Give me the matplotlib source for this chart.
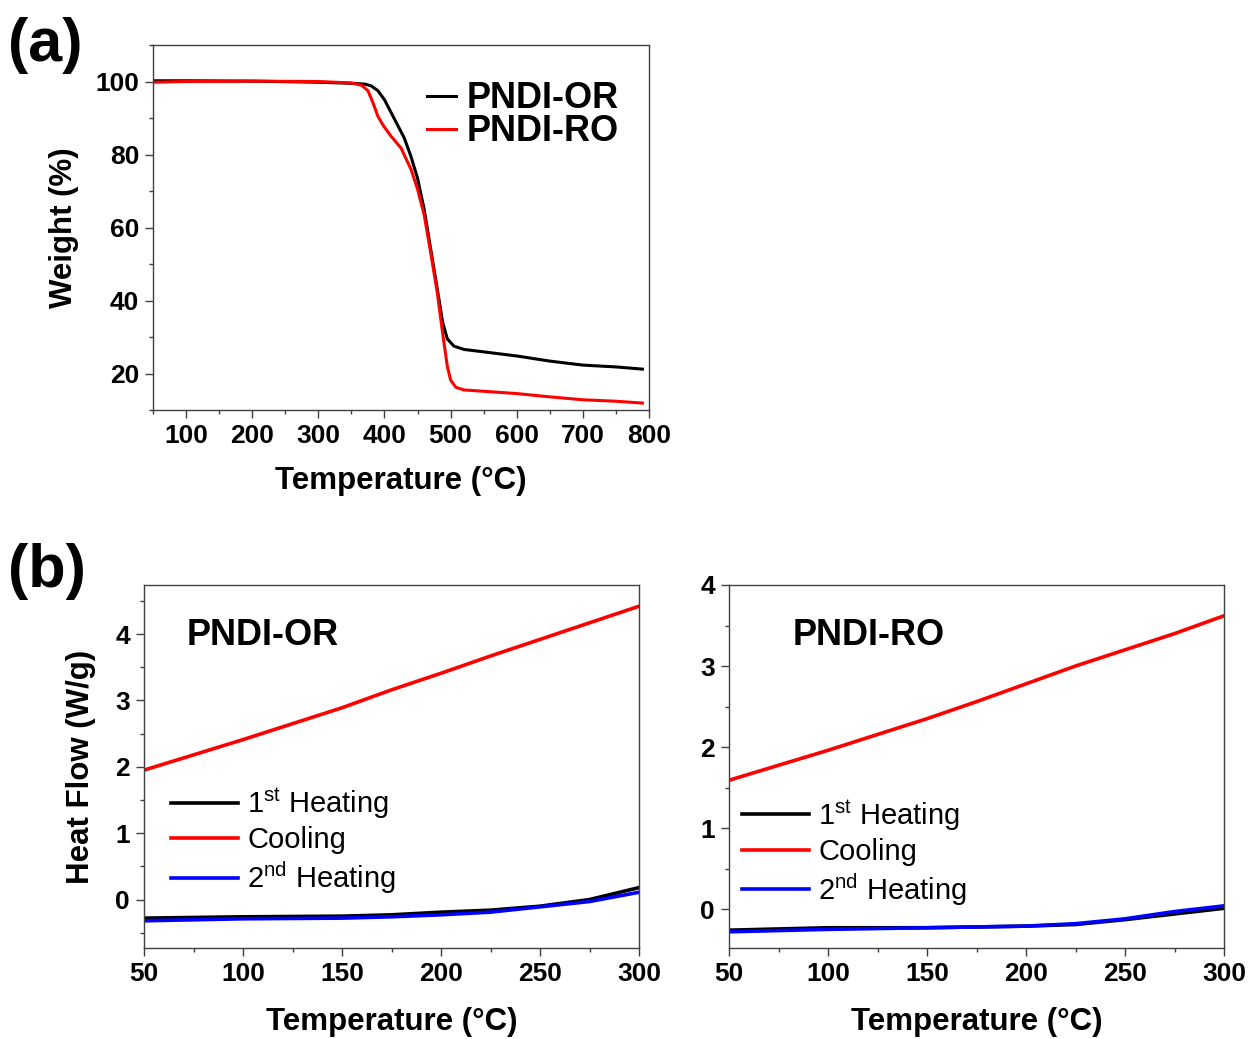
import numpy as np
import matplotlib
matplotlib.use("Agg")
import matplotlib.pyplot as plt
from matplotlib.ticker import MultipleLocator

plt.rcParams['font.family'] = ['Liberation Sans', 'DejaVu Sans']
plt.rcParams['mathtext.fontset'] = 'custom'
plt.rcParams['mathtext.rm'] = 'Liberation Sans'
plt.rcParams['mathtext.default'] = 'regular'

# (a) TGA data
tga_or_T = [50, 100, 200, 300, 350, 370, 380, 390, 400, 410, 420, 430, 440, 450, 460, 470,
            480, 488, 495, 505, 520, 560, 600, 650, 700, 750, 790]
tga_or_W = [100.2, 100.2, 100.1, 99.8, 99.5, 99.3, 98.8, 97.5, 95.0, 91.5, 88.0, 84.5, 79.5,
            73.5, 65.0, 54.0, 43.0, 34.0, 29.5, 27.5, 26.6, 25.7, 24.8, 23.4, 22.3, 21.8, 21.2]
tga_ro_T = [50, 100, 200, 300, 350, 365, 375, 383, 390, 398, 410, 425, 440, 450, 460, 470,
            480, 488, 495, 500, 508, 520, 560, 600, 650, 700, 750, 790]
tga_ro_W = [99.8, 100.0, 100.1, 100.0, 99.6, 99.0, 97.5, 94.0, 90.5, 88.0, 85.0, 81.8, 76.0,
            70.5, 63.5, 53.0, 42.0, 31.0, 22.0, 18.2, 16.2, 15.5, 15.0, 14.5, 13.6, 12.8, 12.4, 11.9]

# (b) DSC data
dsc_T = [50, 100, 150, 175, 200, 225, 250, 275, 300]
or_heat1 = [-0.28, -0.26, -0.25, -0.23, -0.19, -0.16, -0.10, 0.00, 0.18]
or_cool = [1.95, 2.41, 2.89, 3.16, 3.41, 3.67, 3.92, 4.17, 4.42]
or_heat2 = [-0.32, -0.29, -0.28, -0.26, -0.23, -0.19, -0.11, -0.03, 0.11]
ro_heat1 = [-0.26, -0.23, -0.23, -0.22, -0.21, -0.19, -0.13, -0.06, 0.01]
ro_cool = [1.59, 1.96, 2.35, 2.56, 2.78, 3.00, 3.20, 3.40, 3.62]
ro_heat2 = [-0.28, -0.25, -0.23, -0.22, -0.21, -0.18, -0.12, -0.03, 0.04]

W, H = 1252, 1039
fig = plt.figure(figsize=(W / 100, H / 100), dpi=100)


def box(l, t, r, b):
    return [l / W, 1 - b / H, (r - l) / W, (b - t) / H]


def style(ax):
    for s in ax.spines.values():
        s.set_color('#404040')
        s.set_linewidth(1.0)
    ax.tick_params(which='major', direction='out', length=6, width=1, color='#404040',
                   labelsize=19, pad=4)
    ax.tick_params(which='minor', direction='out', length=3, width=1, color='#404040')
    for lab in ax.get_xticklabels() + ax.get_yticklabels():
        lab.set_fontweight('bold')


# (a)
ax = fig.add_axes(box(153, 45, 649, 410))
ax.plot(tga_or_T, tga_or_W, color='black', lw=2.2, label='PNDI-OR')
ax.plot(tga_ro_T, tga_ro_W, color='red', lw=2.2, label='PNDI-RO')
ax.set_xlim(50, 800)
ax.set_ylim(10, 110)
ax.set_xticks(range(100, 801, 100))
ax.set_yticks(range(20, 101, 20))
ax.xaxis.set_minor_locator(MultipleLocator(50))
ax.yaxis.set_minor_locator(MultipleLocator(10))
style(ax)
ax.set_xlabel('Temperature (°C)', fontsize=22.5, fontweight='bold', labelpad=13)
ax.set_ylabel('Weight (%)', fontsize=22.5, fontweight='bold', labelpad=12)
leg = ax.legend(loc='upper left', bbox_to_anchor=(0.553, 0.9), frameon=False,
                prop={'size': 26, 'weight': 'bold'}, handlelength=0.8, handletextpad=0.3,
                labelspacing=-0.06, borderpad=0, borderaxespad=0)
fig.text(8 / W, 1 - 45 / H, '(a)', fontsize=44, fontweight='bold', va='center')

# (b)
panels = [
    (box(144, 585, 639, 948), or_heat1, or_cool, or_heat2, 'PNDI-OR', (-0.73, 4.74),
     0.087, (0.055, 0.447)),
    (box(729, 585, 1224, 948), ro_heat1, ro_cool, ro_heat2, 'PNDI-RO', (-0.48, 4.0),
     0.129, (0.027, 0.415)),
]
for i, (pos, h1, c, h2, name, yl, tx, lpos) in enumerate(panels):
    ax = fig.add_axes(pos)
    ax.plot(dsc_T, h1, color='black', lw=2.6, label='1$^{st}$ Heating')
    ax.plot(dsc_T, c, color='red', lw=2.6, label='Cooling')
    ax.plot(dsc_T, h2, color='blue', lw=2.6, label='2$^{nd}$ Heating')
    ax.set_xlim(50, 300)
    ax.set_ylim(*yl)
    ax.set_xticks(range(50, 301, 50))
    ax.set_yticks(range(0, 5))
    ax.xaxis.set_minor_locator(MultipleLocator(25))
    ax.yaxis.set_minor_locator(MultipleLocator(0.5))
    style(ax)
    ax.set_xlabel('Temperature (°C)', fontsize=22.5, fontweight='bold', labelpad=15)
    if i == 0:
        ax.set_ylabel('Heat Flow (W/g)', fontsize=22.5, fontweight='bold', labelpad=14)
    ax.text(tx, 0.86, name, transform=ax.transAxes, fontsize=26, fontweight='bold',
            va='center', ha='left')
    ax.legend(loc='upper left', bbox_to_anchor=lpos, frameon=False, fontsize=21,
              handlelength=2.3, handletextpad=0.3, labelspacing=0.18, borderpad=0,
              borderaxespad=0)
fig.text(8 / W, 1 - 572 / H, '(b)', fontsize=44, fontweight='bold', va='center')

fig.savefig('out.png', dpi=100)
